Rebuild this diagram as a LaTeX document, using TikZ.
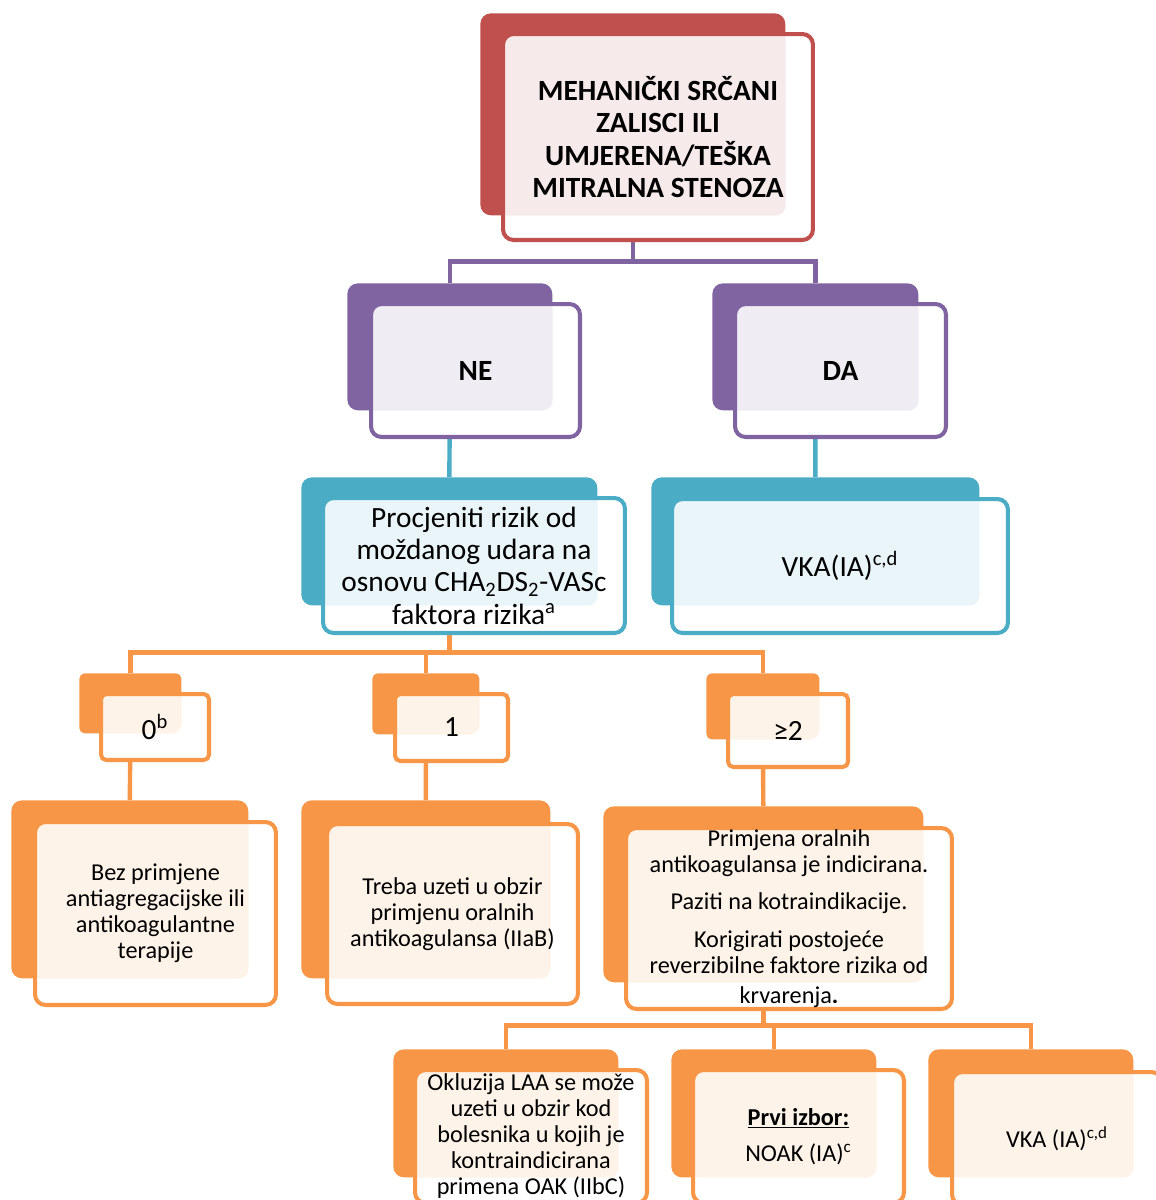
\documentclass[tikz,border=0pt]{standalone}
\usepackage{fontspec}
\setmainfont{Carlito}
\usetikzlibrary{backgrounds}
\definecolor{redA}{HTML}{C0504D}
\definecolor{purpleA}{HTML}{8064A2}
\definecolor{tealA}{HTML}{4BACC6}
\definecolor{orangeA}{HTML}{F79646}
\begin{document}
\begin{tikzpicture}[
        x=0.02cm, y=-0.02cm,
        every node/.style={align=center, inner sep=0pt, font=\fontsize{16.7}{18.4}\selectfont},
        back/.style={fill=#1, rounded corners=6pt, anchor=north west},
        front/.style n args={2}{draw=#1, line width=2.3pt, fill=white, rounded corners=6pt, anchor=north west,
            path picture={\fill[#1!12, rounded corners=6pt] ([shift={(-6,-6)}]path picture bounding box.north west) rectangle (#2.south east);}},
        small/.style={rounded corners=3pt},
        txt/.style={font=\fontsize{13.8}{14.8}\selectfont},
        link/.style={draw=#1, line width=2.5pt}
    ]
    \useasboundingbox (0,0) rectangle (1156,1200);
    % level 0
    \node[back=redA, minimum width=6.1cm, minimum height=4.04cm] (topB) at (480,13) {};
    \node[front={redA}{topB}, minimum width=6.2cm, minimum height=4.12cm] (top) at (501,32)
        {\bfseries MEHANIČKI SRČANI\\ \bfseries ZALISCI ILI\\ \bfseries UMJERENA/TEŠKA\\ \bfseries MITRALNA STENOZA};
    % level 1
    \node[back=purpleA, minimum width=4.1cm, minimum height=2.54cm] (neB) at (347,283) {};
    \node[front={purpleA}{neB}, minimum width=4.18cm, minimum height=2.66cm] (ne) at (369,302) {\bfseries NE};
    \node[back=purpleA, minimum width=4.12cm, minimum height=2.54cm] (daB) at (712,283) {};
    \node[front={purpleA}{daB}, minimum width=4.22cm, minimum height=2.66cm] (da) at (733,302) {\bfseries DA};
    % level 2
    \node[back=tealA, minimum width=5.92cm, minimum height=2.56cm] (rizikB) at (301,477) {};
    \node[front={tealA}{rizikB}, minimum width=6.04cm, minimum height=2.7cm] (rizik) at (321,496)
        {Procjeniti rizik od\\ moždanog udara na\\ osnovu CHA\textsubscript{2}DS\textsubscript{2}-VASc\\ faktora rizika\textsuperscript{a}};
    \node[back=tealA, minimum width=6.56cm, minimum height=2.56cm] (vkaAB) at (651,477) {};
    \node[front={tealA}{vkaAB}, minimum width=6.72cm, minimum height=2.68cm] (vkaA) at (670,497) {VKA(IA)\textsuperscript{c,d}};
    % level 3
    \node[back=orangeA, small, minimum width=2.04cm, minimum height=1.2cm] (zeroB) at (79,673) {};
    \node[front={orangeA}{zeroB}, small, minimum width=2.16cm, minimum height=1.32cm] (zero) at (99,692) {0\textsuperscript{b}};
    \node[back=orangeA, small, minimum width=2.14cm, minimum height=1.22cm] (oneB) at (372,673) {};
    \node[front={orangeA}{oneB}, small, minimum width=2.26cm, minimum height=1.34cm] (one) at (393,692) {1};
    \node[back=orangeA, small, minimum width=2.26cm, minimum height=1.32cm] (twoB) at (706,673) {};
    \node[front={orangeA}{twoB}, small, minimum width=2.4cm, minimum height=1.46cm] (two) at (726,692) {≥2};
    % level 4
    \node[back=orangeA, minimum width=4.74cm, minimum height=3.56cm] (bezB) at (11,800) {};
    \node[front={orangeA}{bezB}, txt, minimum width=4.82cm, minimum height=3.66cm] (bez) at (33,820)
        {Bez primjene\\ antiagregacijske ili\\ antikoagulantne\\ terapije};
    \node[back=orangeA, minimum width=4.98cm, minimum height=3.56cm] (obzirB) at (301,800) {};
    \node[front={orangeA}{obzirB}, txt, minimum width=5.02cm, minimum height=3.6cm] (obzir) at (325,822)
        {Treba uzeti u obzir\\ primjenu oralnih\\ antikoagulansa (IIaB)};
    \node[back=orangeA, minimum width=6.4cm, minimum height=3.52cm] (oakB) at (603,806) {};
    \node[front={orangeA}{oakB}, txt, minimum width=6.52cm, minimum height=3.62cm] (oak) at (624,826)
        {Primjena oralnih\\ antikoagulansa je indicirana.\\[6pt] Paziti na kotraindikacije.\\[7pt]
         Korigirati postojeće\\ reverzibilne faktore rizika od\\[2pt] krvarenja\textbf{.}};
    % level 5
    \node[back=orangeA, minimum width=4.5cm, minimum height=2.56cm] (laaB) at (393,1049) {};
    \node[front={orangeA}{laaB}, txt, minimum width=4.64cm, minimum height=2.66cm] (laa) at (413,1068)
        {Okluzija LAA se može\\ uzeti u obzir kod\\ bolesnika u kojih je\\ kontraindicirana\\ primena OAK (IIbC)};
    \node[back=orangeA, minimum width=4.1cm, minimum height=2.56cm] (noakB) at (671,1049) {};
    \node[front={orangeA}{noakB}, txt, minimum width=4.22cm, minimum height=2.66cm] (noak) at (691,1068)
        {\underline{\textbf{Prvi izbor:}}\\[6pt] NOAK (IA)\textsuperscript{c}};
    \node[back=orangeA, minimum width=4.1cm, minimum height=2.56cm] (vkaBB) at (928,1049) {};
    \node[front={orangeA}{vkaBB}, txt, minimum width=4.2cm, minimum height=2.66cm] (vkaB) at (950,1070)
        {VKA (IA)\textsuperscript{c,d}};
    % connectors
    \begin{scope}[on background layer]
        \draw[link=purpleA] (topB.south) -- ++(0,46) -| (neB.north);
        \draw[link=purpleA] (topB.south) -- ++(0,46) -| (daB.north);
        \draw[link=tealA] (neB.south) -- (rizikB.north);
        \draw[link=tealA] (daB.south) -- (vkaAB.north);
        \draw[link=orangeA] (rizikB.south) -- ++(0,47) -| (zeroB.north);
        \draw[link=orangeA] (rizikB.south) -- ++(0,47) -| (oneB.north);
        \draw[link=orangeA] (rizikB.south) -- ++(0,47) -| (twoB.north);
        \draw[link=orangeA] (zeroB.south) -- (bezB.north);
        \draw[link=orangeA] (oneB.south) -- (obzirB.north);
        \draw[link=orangeA] (twoB.south) -- (oakB.north);
        \draw[link=orangeA] (oakB.south) -- ++(0,43) -| (laaB.north);
        \draw[link=orangeA] (oakB.south) -- ++(0,43) -| (noakB.north);
        \draw[link=orangeA] (oakB.south) -- ++(0,43) -| (vkaBB.north);
    \end{scope}
\end{tikzpicture}
\end{document}
